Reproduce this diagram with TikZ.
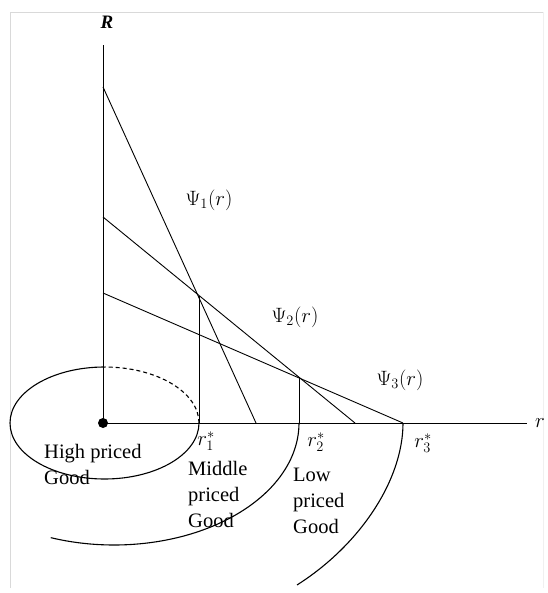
\documentclass[tikz,border=0pt]{standalone}
\usepackage{fontspec}
\setmainfont{Liberation Serif}
\usetikzlibrary{positioning}

\begin{document}
\begin{tikzpicture}[
    x=1pt, y=-1pt,
    axis/.style={line width=0.9pt},
    rent/.style={line width=0.9pt},
    curve/.style={line width=1.1pt},
    lbl/.style={font=\fontsize{21.5}{26}\selectfont, inner sep=0pt},
    goods/.style={font=\fontsize{20.5}{26}\selectfont, align=left, inner sep=0pt, anchor=north west}
  ]
    \useasboundingbox (0,0) rectangle (547,593);
    \draw[gray!30, line width=0.8pt] (543,12) -- (10,12) -- (10,588);
    \draw[gray!12, line width=0.8pt] (543,12) -- (543,588);

    % axes
    \coordinate (O) at (103,423);
    \coordinate (Rtop) at (103,45);
    \coordinate (rend) at (527,423);
    \draw[axis] (O) -- (Rtop);
    \draw[axis] (O) -- (rend);
    \fill (O) circle[radius=5pt];
    \node[lbl, font=\fontsize{19}{22}\selectfont\bfseries\itshape] (R) at (107,22) {R};
    \node[lbl, anchor=west] (r) at (535,423) {$r$};

    % bid rent lines
    \coordinate (A1) at (103,87);
    \coordinate (A2) at (103,217);
    \coordinate (A3) at (103,293);
    \coordinate (B1) at (256,423);
    \coordinate (B2) at (355,423);
    \coordinate (B3) at (403,423);
    \coordinate (P1) at (199,296);
    \coordinate (P2) at (299,377);
    \draw[rent] (A1) -- (B1);
    \draw[rent] (A2) -- (B2);
    \draw[rent] (A3) -- (B3);
    \draw[rent] (P1) -- (P1 |- O);
    \draw[rent] (P2) -- (P2 |- O);

    \node[lbl] (psi1) at (209,200) {$\Psi_1(r)$};
    \node[lbl] (psi2) at (295,317) {$\Psi_2(r)$};
    \node[lbl] (psi3) at (400,380) {$\Psi_3(r)$};
    \node[lbl] (r1) at (206,441) {$r_1^*$};
    \node[lbl] (r2) at (316,442) {$r_2^*$};
    \node[lbl] (r3) at (423,443) {$r_3^*$};

    % market areas
    \draw[curve] (104.5,367) arc[start angle=90, end angle=360, x radius=94.5pt, y radius=56pt];
    \draw[curve, dash pattern=on 4pt off 3pt] (199,423) arc[start angle=0, end angle=90, x radius=94.5pt, y radius=56pt];
    \draw[curve] (P2 |- O) arc[start angle=0, end angle=-110, x radius=185pt, y radius=122pt];
    \draw[curve] (B3) .. controls (403,480) and (360,545) .. (297,585);

    \node[goods] (high) at (44,444) {High priced\\Good};
    \node[goods] (middle) at (188,461) {Middle\\priced\\Good};
    \node[goods] (low) at (293,468) {Low\\priced\\Good};
\end{tikzpicture}
\end{document}
